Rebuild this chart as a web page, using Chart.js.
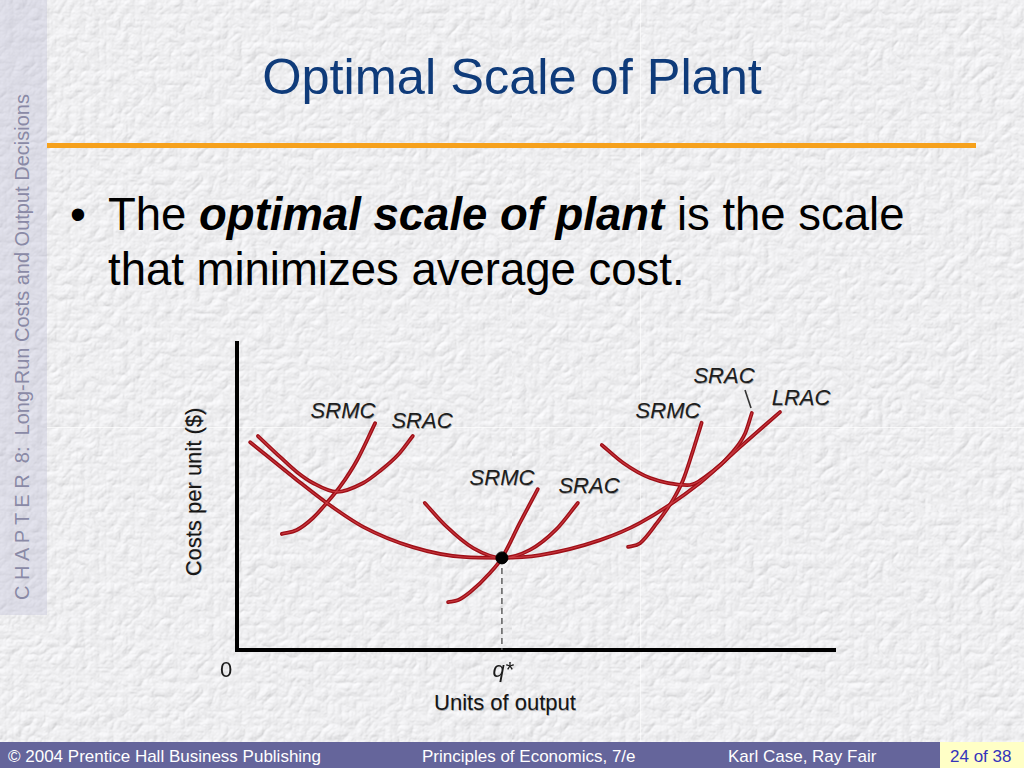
<!DOCTYPE html>
<html>
<head>
<meta charset="utf-8">
<script src="https://cdn.jsdelivr.net/npm/chart.js@4.4.1/dist/chart.umd.min.js"></script>
<style>
html,body{margin:0;padding:0;}
body{width:1024px;height:768px;position:relative;overflow:hidden;font-family:"Liberation Sans",Arial,sans-serif;background:#e6e6e8;}
#tex{position:absolute;left:0;top:0;width:1024px;height:768px;
background-image:url("data:image/svg+xml;utf8,<svg xmlns='http://www.w3.org/2000/svg' width='512' height='512'><filter id='f' x='0' y='0' width='100%25' height='100%25'><feTurbulence type='turbulence' baseFrequency='0.07' numOctaves='3' seed='11'/><feDiffuseLighting lighting-color='%23efeff1' surfaceScale='0.9' diffuseConstant='1.17'><feDistantLight azimuth='235' elevation='58'/></feDiffuseLighting></filter><rect width='512' height='512' filter='url(%23f)'/></svg>");}
#side{position:absolute;left:0;top:0;width:47px;height:615px;background:rgba(185,185,212,0.35);}
.seamh{position:absolute;left:47px;width:977px;height:1px;background:rgba(255,255,255,0.7);}
.seamv{position:absolute;top:0;width:1px;height:742px;background:rgba(255,255,255,0.6);}
.abs{position:absolute;white-space:pre;}
.c{transform:translate(-50%,-50%);line-height:1;}
#sidetxt{left:22px;top:347px;font-size:20px;color:#8a8aa6;transform:translate(-50%,-50%) rotate(-90deg);line-height:1;}
#title{left:0;width:1024px;text-align:center;top:52px;font-size:50.5px;line-height:50px;color:#0f3b7a;}
#rule{position:absolute;left:47px;top:143px;width:929px;height:5px;background:#f6a11c;}
.bul{font-size:45.5px;line-height:45px;color:#000;}
.lbl{font-size:22px;font-style:italic;color:#1e1e1e;text-shadow:0.5px 0.5px 0 rgba(0,0,0,0.35);}
.ax{font-size:22px;color:#161616;text-shadow:0.5px 0.5px 0 rgba(0,0,0,0.3);}
#foot{position:absolute;left:0;top:742px;width:1024px;height:26px;background:#65659b;}
.ft{font-size:17px;line-height:17px;color:#fff;top:748px;}
#pg{position:absolute;left:940px;top:742px;width:84px;height:26px;background:#ffffc6;}
#c{position:absolute;left:0;top:0;}
</style>
</head>
<body>
<div id="tex"></div>
<div id="side"></div>
<div class="seamh" style="top:427px"></div>
<div class="seamv" style="left:640px"></div>
<div class="abs" id="sidetxt">C H A P T E R  8:  Long-Run Costs and Output Decisions</div>
<div class="abs" id="title">Optimal Scale of Plant</div>
<div id="rule"></div>
<div class="abs bul" style="left:70px;top:192px;">•</div>
<div class="abs bul" style="left:108px;top:192px;">The <b><i>optimal scale of plant</i></b> is the scale</div>
<div class="abs bul" style="left:108px;top:247px;">that minimizes average cost.</div>

<div class="abs c lbl" style="left:343px;top:411px;">SRMC</div>
<div class="abs c lbl" style="left:422px;top:421px;">SRAC</div>
<div class="abs c lbl" style="left:502px;top:478px;">SRMC</div>
<div class="abs c lbl" style="left:589px;top:486px;">SRAC</div>
<div class="abs c lbl" style="left:668px;top:411px;">SRMC</div>
<div class="abs c lbl" style="left:724px;top:376px;">SRAC</div>
<div class="abs c lbl" style="left:801px;top:398px;">LRAC</div>
<svg style="position:absolute;left:0;top:0" width="1024" height="768"><line x1="745" y1="390" x2="751" y2="408" stroke="#333" stroke-width="1.6"/></svg>

<div class="abs ax" style="left:194px;top:492px;transform:translate(-50%,-50%) rotate(-90deg);line-height:1;">Costs per unit ($)</div>
<div class="abs c ax" style="left:505px;top:703px;">Units of output</div>

<div id="foot"></div>
<div id="pg"></div>
<div class="abs ft" style="left:8px;">© 2004 Prentice Hall Business Publishing</div>
<div class="abs ft" style="left:422px;">Principles of Economics, 7/e</div>
<div class="abs ft" style="left:728px;">Karl Case, Ray Fair</div>
<div class="abs ft" style="left:950px;color:#3434bb;">24 of 38</div>

<canvas id="c" width="1024" height="768"></canvas>
<script>
// ---- data (x: units of output, y: cost per unit; arbitrary 0-100 units) ----
const qStar = 44.3;
const minCost = 30.0;
const lrac  = [[2.2,67.7],[10.0,55.4],[15.0,47.9],[21.1,40.1],[29.4,33.5],[37.8,30.3],[44.3,30.0],[50.7,30.9],[60.7,35.8],[67.4,41.4],[77.4,54.4],[84.1,66.1],[90.8,77.5]];
const srac1 = [[3.5,69.7],[7.2,62.9],[10.0,58.0],[12.7,54.4],[16.7,51.5],[21.1,54.4],[23.9,58.3],[26.9,63.5],[29.4,69.7]];
const srmc1 = [[7.5,37.8],[10.0,39.1],[12.7,43.0],[15.0,47.9],[17.2,53.1],[20.1,61.9],[23.1,73.9]];
const srac2 = [[31.4,47.9],[35.1,40.1],[39.5,33.2],[44.3,30.0],[49.0,32.6],[53.3,39.1],[57.0,47.9]];
const srmc2 = [[35.3,15.6],[37.0,16.3],[39.0,18.9],[42.3,25.1],[44.3,30.0],[47.3,41.4],[50.3,52.4]];
const srac3 = [[61.0,66.8],[64.6,60.9],[69.1,56.0],[75.3,53.7],[79.6,58.3],[82.9,64.5],[85.0,70.7],[86.1,77.2]];
const srmc3 = [[65.4,33.6],[67.4,34.8],[70.2,41.3],[72.9,48.9],[74.6,55.4],[76.2,64.6],[77.7,74.0]];
const tickValues = [0, qStar];
const tickLabels = ['0', 'q*'];

const pts = a => a.map(p => ({x: p[0], y: p[1]}));
const curve = d => ({data: pts(d), borderColor: '#9e0f17', borderWidth: 3.8, pointRadius: 0,
  fill: false, cubicInterpolationMode: 'monotone', borderCapStyle: 'round', borderJoinStyle: 'round'});
const shine = d => ({data: pts(d), borderColor: 'rgba(214,70,76,0.75)', borderWidth: 1.1, pointRadius: 0,
  fill: false, cubicInterpolationMode: 'monotone', borderCapStyle: 'round'});
const curves = [lrac, srac1, srmc1, srac2, srmc2, srac3, srmc3];

const tickPlugin = {
  id: 'tickText',
  afterDraw(chart) {
    const ctx = chart.ctx, xs = chart.scales.x;
    ctx.save();
    ctx.fillStyle = '#1a1a1a';
    ctx.textAlign = 'center';
    ctx.textBaseline = 'middle';
    tickValues.forEach((v, i) => {
      ctx.font = (i === 0 ? '' : 'italic ') + '22px "Liberation Sans", Arial, sans-serif';
      const px = xs.getPixelForValue(v) + (i === 0 ? -11 : 1);
      ctx.fillText(tickLabels[i], px, chart.chartArea.bottom + 21);
    });
    ctx.restore();
  }
};

new Chart(document.getElementById('c'), {
  type: 'line',
  data: {
    datasets: [
      {data: [{x: qStar, y: minCost}], pointRadius: 6, pointBackgroundColor: '#000', pointBorderColor: '#000', showLine: false},
      ...curves.map(shine),
      ...curves.map(curve),
      {data: [{x: qStar, y: minCost}, {x: qStar, y: 0}], borderColor: '#555', borderWidth: 1.4, borderDash: [6, 4], pointRadius: 0, tension: 0}
    ]
  },
  options: {
    responsive: false,
    animation: false,
    devicePixelRatio: 1,
    layout: {padding: {left: 237, top: 343, right: 189, bottom: 118}},
    plugins: {legend: {display: false}, tooltip: {enabled: false}},
    elements: {line: {clip: false}},
    scales: {
      x: {type: 'linear', min: 0, max: 100, grid: {display: false, drawTicks: false}, ticks: {display: false},
          border: {display: true, color: '#000', width: 4}, afterFit(s) { s.height = 0; }},
      y: {type: 'linear', min: 0, max: 100, grid: {display: false, drawTicks: false}, ticks: {display: false},
          border: {display: true, color: '#000', width: 4}, afterFit(s) { s.width = 0; }}
    }
  },
  plugins: [tickPlugin]
});
</script>
</body>
</html>
